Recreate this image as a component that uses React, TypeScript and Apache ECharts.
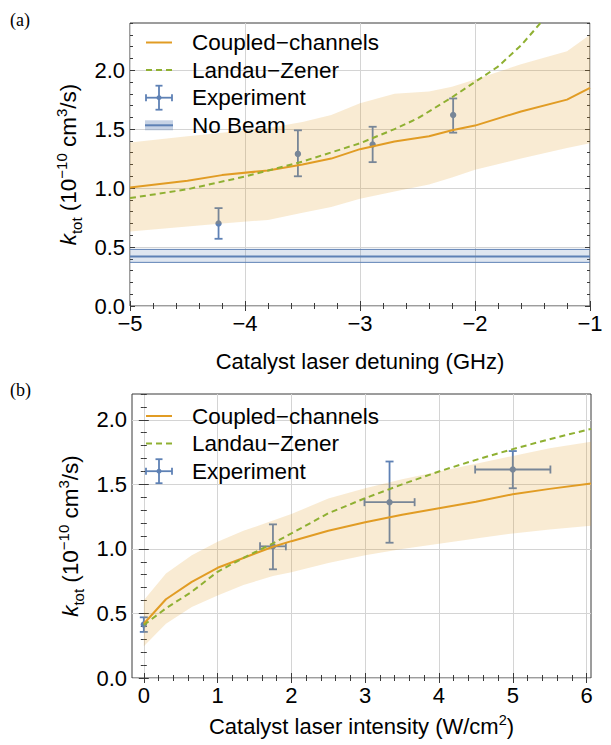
import { useEffect, useRef } from 'react';
import * as echarts from 'echarts';

// ---------- Panel (a): catalyst laser detuning ----------
const detuningCC = [-5, -4.5, -4.2, -3.8, -3.5, -3.25, -3, -2.7, -2.4, -2.2, -2, -1.6, -1.2, -1];
const ccA = [1.005, 1.062, 1.11, 1.15, 1.2, 1.25, 1.33, 1.395, 1.44, 1.49, 1.53, 1.65, 1.75, 1.85];
const ccAUpper = [1.386, 1.44, 1.47, 1.51, 1.56, 1.62, 1.72, 1.8, 1.82, 1.86, 1.92, 2.05, 2.16, 2.3];
const ccALower = [0.632, 0.675, 0.7, 0.73, 0.79, 0.84, 0.91, 0.97, 1.03, 1.09, 1.155, 1.25, 1.34, 1.38];
const detuningLZ = [-5, -4.5, -4, -3.5, -3, -2.7, -2.5, -2.2, -2, -1.8, -1.6, -1.43];
const lzA = [0.915, 0.99, 1.098, 1.225, 1.38, 1.5, 1.59, 1.77, 1.9, 2.03, 2.21, 2.4];
const expDetuning = [-4.23, -3.54, -2.89, -2.19];
const expA = [0.7, 1.29, 1.37, 1.62];
const expALow = [0.57, 1.1, 1.22, 1.47];
const expAHigh = [0.83, 1.49, 1.52, 1.76];
const noBeamX = [-5, -1];
const noBeam = [0.42, 0.42];
const noBeamLow = 0.37;
const noBeamHigh = 0.48;

// ---------- Panel (b): catalyst laser intensity ----------
const intensity = [0, 0.3, 0.65, 1, 1.35, 1.75, 2, 2.5, 3, 3.5, 4, 4.5, 5, 5.5, 6.06];
const ccB = [0.42, 0.61, 0.745, 0.854, 0.93, 1.017, 1.06, 1.14, 1.207, 1.265, 1.315, 1.365, 1.424, 1.465, 1.506];
const ccBUpper = [0.603, 0.81, 0.95, 1.056, 1.14, 1.22, 1.27, 1.39, 1.47, 1.54, 1.6, 1.66, 1.72, 1.78, 1.83];
const ccBLower = [0.246, 0.42, 0.55, 0.64, 0.72, 0.79, 0.82, 0.89, 0.95, 1.0, 1.04, 1.08, 1.12, 1.15, 1.18];
const lzB = [0.41, 0.54, 0.668, 0.823, 0.93, 1.043, 1.12, 1.276, 1.393, 1.5, 1.6, 1.69, 1.773, 1.85, 1.93];
const expIntensity = [0, 1.75, 3.33, 5];
const expIntensityErr = [0, 0.175, 0.34, 0.51];
const expB = [0.415, 1.02, 1.362, 1.615];
const expBLow = [0.357, 0.842, 1.048, 1.47];
const expBHigh = [0.47, 1.19, 1.677, 1.758];

// ---------- ticks ----------
const xTicksA = [-5, -4, -3, -2, -1];
const yTicksA = [0, 0.5, 1, 1.5, 2];
const xTicksB = [0, 1, 2, 3, 4, 5, 6];
const yTicksB = [0, 0.5, 1, 1.5, 2];

const ORANGE = '#E19C24';
const GREEN = '#8FB032';
const BLUE = '#5E81B5';
const FRAME = '#3a3a3a';
const FONT = '"Liberation Sans", Arial, sans-serif';
const SERIF = '"Liberation Serif", "DejaVu Serif", serif';
const TICK_FS = 22;
const TITLE_FS = 22;
const LEGEND_FS = 22.5;

function steps(a: number, b: number, s: number): number[] {
  const n = Math.round((b - a) / s);
  const out: number[] = [];
  for (let i = 0; i <= n; i++) out.push(+(a + i * s).toFixed(3));
  return out;
}

const minus = (v: number) => String(v).replace('-', '\u2212');

function xAxes(gridIndex: number, min: number, max: number, majors: number[], minors: number[], fmt: (v: number) => string, name: string, nameGap: number, rich?: any) {
  const tickStyle = { color: FRAME, width: 1 };
  const base: any = {
    type: 'value', gridIndex, min, max,
    axisLine: { show: false }, splitLine: { show: false },
    axisLabel: { show: false }, axisTick: { show: false },
  };
  return [
    {
      ...base, position: 'bottom',
      name, nameLocation: 'middle', nameGap,
      nameTextStyle: { fontSize: TITLE_FS, color: '#000', fontFamily: FONT, rich },
      axisTick: { show: true, inside: true, length: 5, customValues: majors, lineStyle: tickStyle },
      axisLabel: { show: true, customValues: majors, formatter: fmt, margin: 6, fontSize: TICK_FS, color: '#000', fontFamily: FONT },
      splitLine: { show: true, lineStyle: { color: '#d4d4d4', width: 1 } },
    },
    { ...base, position: 'bottom', axisTick: { show: true, inside: true, length: 3, customValues: minors, lineStyle: tickStyle } },
    { ...base, position: 'top', axisTick: { show: true, inside: true, length: 5, customValues: majors, lineStyle: tickStyle } },
    { ...base, position: 'top', axisTick: { show: true, inside: true, length: 3, customValues: minors, lineStyle: tickStyle } },
  ];
}

const yName = '{i|k}{sub|tot}{n| (10}{sup|\u221210}{n| cm}{sup|3}{n|/s)}';
const yRich = {
  i: { fontStyle: 'italic', fontSize: 22.5, fontFamily: FONT, lineHeight: 30, color: '#000' },
  n: { fontSize: 22.5, fontFamily: FONT, lineHeight: 30, color: '#000' },
  sub: { fontSize: 15, fontFamily: FONT, lineHeight: 30, verticalAlign: 'bottom', color: '#000' },
  sup: { fontSize: 15, fontFamily: FONT, lineHeight: 30, verticalAlign: 'top', color: '#000' },
};

function yAxes(gridIndex: number, min: number, max: number, majors: number[], minors: number[], nameGap: number) {
  const tickStyle = { color: FRAME, width: 1 };
  const base: any = {
    type: 'value', gridIndex, min, max,
    axisLine: { show: false }, splitLine: { show: false },
    axisLabel: { show: false }, axisTick: { show: false },
  };
  return [
    {
      ...base, position: 'left',
      name: yName, nameLocation: 'middle', nameGap,
      nameTextStyle: { rich: yRich, fontSize: 22.5, fontFamily: FONT },
      axisTick: { show: true, inside: true, length: 5, customValues: majors, lineStyle: tickStyle },
      axisLabel: { show: true, customValues: majors, formatter: (v: number) => v.toFixed(1), margin: 5, fontSize: TICK_FS, color: '#000', fontFamily: FONT },
      splitLine: { show: true, lineStyle: { color: '#d4d4d4', width: 1 } },
    },
    { ...base, position: 'left', axisTick: { show: true, inside: true, length: 3, customValues: minors, lineStyle: tickStyle } },
    { ...base, position: 'right', axisTick: { show: true, inside: true, length: 5, customValues: majors, lineStyle: tickStyle } },
    { ...base, position: 'right', axisTick: { show: true, inside: true, length: 3, customValues: minors, lineStyle: tickStyle } },
  ];
}

function errorBarSeries(axisIndex: number, xs: number[], ys: number[], lo: number[], hi: number[], xe: number[]) {
  return {
    type: 'custom', xAxisIndex: axisIndex, yAxisIndex: axisIndex, z: 2,
    dimensions: ['x', 'y', 'lo', 'hi', 'xe'],
    encode: { x: 0, y: 1 },
    data: xs.map((x, i) => [x, ys[i], lo[i], hi[i], xe[i]]),
    renderItem: (_p: any, api: any) => {
      const x = api.value(0), y = api.value(1), l = api.value(2), h = api.value(3), e = api.value(4);
      const c = api.coord([x, y]);
      const pl = api.coord([x, l]);
      const ph = api.coord([x, h]);
      const st = { stroke: BLUE, lineWidth: 1.8 };
      const cap = 4;
      const children: any[] = [
        { type: 'line', shape: { x1: pl[0], y1: pl[1], x2: ph[0], y2: ph[1] }, style: st },
        { type: 'line', shape: { x1: pl[0] - cap, y1: pl[1], x2: pl[0] + cap, y2: pl[1] }, style: st },
        { type: 'line', shape: { x1: ph[0] - cap, y1: ph[1], x2: ph[0] + cap, y2: ph[1] }, style: st },
      ];
      if (e > 0) {
        const a = api.coord([x - e, y]);
        const b = api.coord([x + e, y]);
        children.push(
          { type: 'line', shape: { x1: a[0], y1: a[1], x2: b[0], y2: b[1] }, style: st },
          { type: 'line', shape: { x1: a[0], y1: a[1] - cap, x2: a[0], y2: a[1] + cap }, style: st },
          { type: 'line', shape: { x1: b[0], y1: b[1] - cap, x2: b[0], y2: b[1] + cap }, style: st },
        );
      }
      children.push({ type: 'circle', shape: { cx: c[0], cy: c[1], r: 3.2 }, style: { fill: BLUE } });
      return { type: 'group', children };
    },
  };
}

function bandSeries(axisIndex: number, xs: number[], upper: number[], lower: number[]) {
  return {
    type: 'custom', xAxisIndex: axisIndex, yAxisIndex: axisIndex, z: 3,
    encode: { x: 0, y: 1 },
    data: [[xs[0], upper[0]]],
    renderItem: (_p: any, api: any) => {
      const pts: number[][] = [];
      xs.forEach((x, i) => pts.push(api.coord([x, upper[i]])));
      for (let i = xs.length - 1; i >= 0; i--) pts.push(api.coord([xs[i], lower[i]]));
      return { type: 'polygon', shape: { points: pts }, style: { fill: ORANGE, opacity: 0.2 } };
    },
  };
}

function lineSeries(axisIndex: number, xs: number[], ys: number[], color: string, dashed: boolean) {
  return {
    type: 'line', xAxisIndex: axisIndex, yAxisIndex: axisIndex, z: 4,
    data: xs.map((x, i) => [x, ys[i]]),
    symbol: 'none', clip: true,
    lineStyle: { color, width: 2, type: dashed ? [6, 4] : 'solid' },
  };
}

function legend(top: number, withNoBeam: boolean): any[] {
  const step = 27.6;
  const x1 = 146, x2 = 172, tx = 192;
  const text = (y: number, t: string) => ({
    type: 'text', x: tx, y, z: 10, style: { text: t, fontSize: LEGEND_FS, fontFamily: FONT, fill: '#000', verticalAlign: 'middle' },
  });
  const st = { stroke: BLUE, lineWidth: 1.8 };
  const ey = top + 2 * step;
  const cx = (x1 + x2) / 2;
  const els: any[] = [
    { type: 'line', z: 10, shape: { x1, y1: top, x2, y2: top }, style: { stroke: ORANGE, lineWidth: 2 } },
    text(top, 'Coupled\u2212channels'),
    { type: 'line', z: 10, shape: { x1, y1: top + step, x2, y2: top + step }, style: { stroke: GREEN, lineWidth: 2, lineDash: [6, 4] } },
    text(top + step, 'Landau\u2212Zener'),
    { type: 'line', z: 10, shape: { x1, y1: ey, x2, y2: ey }, style: st },
    { type: 'line', z: 10, shape: { x1: cx, y1: ey - 12, x2: cx, y2: ey + 12 }, style: st },
    { type: 'line', z: 10, shape: { x1: cx - 3.5, y1: ey - 12, x2: cx + 3.5, y2: ey - 12 }, style: st },
    { type: 'line', z: 10, shape: { x1: cx - 3.5, y1: ey + 12, x2: cx + 3.5, y2: ey + 12 }, style: st },
    { type: 'line', z: 10, shape: { x1, y1: ey - 3.5, x2: x1, y2: ey + 3.5 }, style: st },
    { type: 'line', z: 10, shape: { x1: x2, y1: ey - 3.5, x2, y2: ey + 3.5 }, style: st },
    { type: 'circle', z: 10, shape: { cx, cy: ey, r: 2.5 }, style: { fill: BLUE } },
    text(ey, 'Experiment'),
  ];
  if (withNoBeam) {
    const ny = top + 3 * step;
    els.push(
      { type: 'rect', z: 10, shape: { x: x1 - 1, y: ny - 5, width: x2 - x1 + 2, height: 10 }, style: { fill: 'rgba(94,129,181,0.35)' } },
      { type: 'line', z: 10, shape: { x1: x1 - 1, y1: ny, x2: x2 + 1, y2: ny }, style: { stroke: BLUE, lineWidth: 2 } },
      text(ny, 'No Beam'),
    );
  }
  return els;
}

export default function App() {
  const ref = useRef<HTMLDivElement>(null);
  useEffect(() => {
    if (!ref.current) return;
    const chart = echarts.init(ref.current, null, { renderer: 'svg' });
    const option: any = {
      animation: false,
      backgroundColor: '#fff',
      grid: [
        { left: 130, top: 23, width: 460, height: 283, show: true, borderColor: FRAME, borderWidth: 1, backgroundColor: 'transparent' },
        { left: 132, top: 394, width: 459, height: 284, show: true, borderColor: FRAME, borderWidth: 1, backgroundColor: 'transparent' },
      ],
      xAxis: [
        ...xAxes(0, -5, -1, xTicksA, steps(-5, -1, 0.2), minus, 'Catalyst laser detuning (GHz)', 44),
        ...xAxes(1, -0.16, 6.06, xTicksB, steps(0, 6, 0.2), (v: number) => String(v), '{n|Catalyst laser intensity (W/cm}{sup|2}{n|)}', 34, {
          n: { fontSize: TITLE_FS, fontFamily: FONT, lineHeight: 28, color: '#000' },
          sup: { fontSize: 14.5, fontFamily: FONT, lineHeight: 28, verticalAlign: 'top', color: '#000' },
        }),
      ],
      yAxis: [
        ...yAxes(0, 0, 2.4, yTicksA, steps(0, 2.4, 0.1), 33),
        ...yAxes(1, 0, 2.2, yTicksB, steps(0, 2.2, 0.1), 33),
      ],
      series: [
        errorBarSeries(0, expDetuning, expA, expALow, expAHigh, [0, 0, 0, 0]),
        bandSeries(0, detuningCC, ccAUpper, ccALower),
        {
          type: 'custom', xAxisIndex: 0, yAxisIndex: 0, z: 3,
          encode: { x: 0, y: 1 },
          data: [[noBeamX[0], noBeam[0]]],
          renderItem: (_p: any, api: any) => {
            const a = api.coord([noBeamX[0], noBeamLow]);
            const b = api.coord([noBeamX[1], noBeamHigh]);
            return {
              type: 'group', children: [
                { type: 'rect', shape: { x: a[0], y: b[1], width: b[0] - a[0], height: a[1] - b[1] }, style: { fill: 'rgba(94,129,181,0.2)' } },
                { type: 'line', shape: { x1: a[0], y1: a[1], x2: b[0], y2: a[1] }, style: { stroke: BLUE, lineWidth: 1 } },
                { type: 'line', shape: { x1: a[0], y1: b[1], x2: b[0], y2: b[1] }, style: { stroke: BLUE, lineWidth: 1 } },
              ],
            };
          },
        },
        lineSeries(0, noBeamX, noBeam, BLUE, false),
        lineSeries(0, detuningCC, ccA, ORANGE, false),
        lineSeries(0, detuningLZ, lzA, GREEN, true),
        errorBarSeries(4, expIntensity, expB, expBLow, expBHigh, expIntensityErr),
        bandSeries(4, intensity, ccBUpper, ccBLower),
        lineSeries(4, intensity, ccB, ORANGE, false),
        lineSeries(4, intensity, lzB, GREEN, true),
      ],
      graphic: [
        { type: 'text', x: 10, y: 20, style: { text: '(a)', fontSize: 18, fontFamily: SERIF, fill: '#000', verticalAlign: 'middle' } },
        { type: 'text', x: 10, y: 390, style: { text: '(b)', fontSize: 18, fontFamily: SERIF, fill: '#000', verticalAlign: 'middle' } },
        ...legend(42.5, true),
        ...legend(416, false),
      ],
    };
    chart.setOption(option);
    return () => chart.dispose();
  }, []);
  return <div ref={ref} style={{ position: 'fixed', left: 0, top: 0, width: 611, height: 745 }} />;
}
